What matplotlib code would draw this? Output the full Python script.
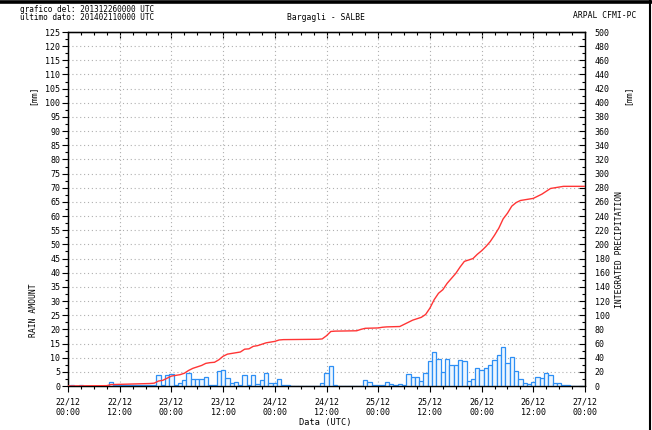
import matplotlib
matplotlib.use('Agg')
import matplotlib.pyplot as plt
from matplotlib.ticker import MultipleLocator, FixedLocator
from matplotlib.lines import Line2D

plt.rcParams['font.family'] = ['DejaVu Sans Mono']
plt.rcParams['font.size'] = 6

# hourly rain amount [mm], hour index from 22/12 00:00
rain_mm = [
    0, 0.4, 0, 0.4, 0, 0, 0, 0, 0, 0,
    1.3, 0.2, 0.2, 0.2, 0.2, 0.2, 0.2, 0.2, 0.2, 0.2,
    0.2, 3.8, 0.5, 3.8, 4.2, 0.3, 1.2, 2.1, 4.7, 2.4,
    2.4, 2.6, 3.3, 0.5, 0.5, 5.4, 5.6, 2.9, 0.9, 1.4,
    0.4, 4.0, 0.4, 3.8, 0.6, 2.1, 4.5, 1.2, 1.2, 2.3,
    0.5, 0.4, 0.1, 0.1, 0.1, 0.1, 0.1, 0.1, 0.1, 1.2,
    4.7, 7.1, 0.4, 0.1, 0.1, 0.1, 0.1, 0.1, 0.1, 2.1,
    1.3, 0.2, 0.2, 0.2, 1.5, 0.7, 0.2, 0.7, 0.2, 4.1,
    3.2, 3.2, 1.9, 4.5, 8.8, 12.0, 9.7, 5.1, 9.7, 7.3,
    7.3, 9.2, 9.0, 1.8, 2.6, 6.5, 5.6, 6.4, 7.3, 9.2,
    10.8, 13.9, 8.2, 10.4, 5.3, 2.4, 1.1, 0.8, 1.4, 3.3,
    2.8, 4.7, 4.0, 1.2, 1.2, 0.5, 0.2, 0.1, 0.1, 0.1,
]
hours = list(range(len(rain_mm)))

# integrated precipitation [mm] (right axis)
cum_hours = [0, 9, 10, 19, 20, 21, 22, 23, 24, 25, 26, 27, 28, 29, 30, 31, 32, 33,
             34, 35, 36, 37, 38, 39, 40, 41, 42, 43, 44, 45, 46, 47, 48, 49, 50,
             58, 59, 60, 61, 62, 67, 68, 69, 72, 73, 74, 77, 78, 79, 80, 81, 82,
             83, 84, 85, 86, 87, 88, 89, 90, 91, 92, 93, 94, 95, 96, 97, 98, 99,
             100, 101, 102, 103, 104, 105, 106, 107, 108, 109, 110, 111, 112, 113,
             114, 115, 120]
cum_mm = [0, 0.5, 2, 3.5, 4, 7, 8, 11, 14, 15, 16, 18, 22, 25, 27, 29, 32, 33,
          33.5, 37, 42, 45, 46, 47, 48, 52, 52.5, 56, 57, 59, 61, 62, 63, 65, 65.5,
          66, 66.5, 71, 77, 77.5, 78, 80, 81.5, 82, 83, 83.5, 84, 87, 90, 93, 95, 97,
          101, 110, 122, 131, 136, 145, 152, 159, 168, 176, 178, 180, 186, 191, 197, 204, 213,
          223, 236, 244, 254, 259, 262, 263, 264, 265, 268, 271, 275, 279, 280,
          281, 282, 282]

tick_hours = [0, 12, 24, 36, 48, 60, 72, 84, 96, 108, 120]
tick_labels = ['22/12\n00:00', '22/12\n12:00', '23/12\n00:00', '23/12\n12:00',
               '24/12\n00:00', '24/12\n12:00', '25/12\n00:00', '25/12\n12:00',
               '26/12\n00:00', '26/12\n12:00', '27/12\n00:00']

W, H = 652, 430
fig = plt.figure(figsize=(W / 100, H / 100), dpi=100)
ax = fig.add_axes([68 / W, 44 / H, (585 - 68) / W, (386 - 32) / H])

ax.bar(hours, rain_mm, width=1.0, align='center', facecolor='#edf6ff',
       edgecolor='#2d8ff5', linewidth=0.9, zorder=3)
ax.set_xlim(0, 120)
ax.set_ylim(0, 125)

ax.yaxis.set_major_locator(MultipleLocator(5))
ax.yaxis.set_minor_locator(MultipleLocator(2.5))
ax.xaxis.set_major_locator(FixedLocator(tick_hours))
ax.set_xticklabels(tick_labels)
ax.xaxis.set_minor_locator(MultipleLocator(3))
ax.tick_params(axis='y', which='major', direction='out', length=4, width=0.8, pad=1.5, labelsize=6)
ax.tick_params(axis='y', which='minor', direction='out', length=2, width=0.8)
ax.tick_params(axis='x', which='major', direction='out', length=4, width=0.8, pad=4, labelsize=6)
ax.tick_params(axis='x', which='minor', direction='out', length=2.5, width=0.8)

ax.grid(True, which='major', axis='both', color='#b0b0b0', linestyle=(0, (1, 2.5)), linewidth=0.8)
ax.set_axisbelow(True)

top = ax.secondary_xaxis('top')
top.xaxis.set_major_locator(FixedLocator(tick_hours))
top.xaxis.set_minor_locator(MultipleLocator(3))
top.tick_params(axis='x', which='major', direction='in', length=4, width=0.8, labeltop=False)
top.tick_params(axis='x', which='minor', direction='in', length=2.5, width=0.8)

ax2 = ax.twinx()
ax2.plot(cum_hours, cum_mm, color='#ff3535', linewidth=1.0, zorder=4)
ax2.set_ylim(0, 500)
ax2.yaxis.set_major_locator(MultipleLocator(20))
ax2.yaxis.set_minor_locator(MultipleLocator(10))
ax2.tick_params(axis='y', which='major', direction='in', length=4, width=0.8, pad=7, labelsize=6)
ax2.tick_params(axis='y', which='minor', direction='in', length=2, width=0.8)

for a in (ax, ax2):
    for s in a.spines.values():
        s.set_linewidth(0.9)

# x axis title
fig.text(325 / W, 1 - 423 / H, 'Data (UTC)', fontsize=6.2, va='center', ha='center')

# header texts
fig.text(20 / W, 1 - 9 / H, 'grafico del: 201312260000 UTC', fontsize=5.6, va='center', ha='left')
fig.text(20 / W, 1 - 17 / H, 'ultimo dato: 201402110000 UTC', fontsize=5.6, va='center', ha='left')
fig.text(326 / W, 1 - 17 / H, 'Bargagli - SALBE', fontsize=5.8, va='center', ha='center')
fig.text(636 / W, 1 - 15 / H, 'ARPAL CFMI-PC', fontsize=5.8, va='center', ha='right')

# axis side labels
fig.text(33 / W, 1 - 95 / H, '[mm]', fontsize=5.8, rotation=90, va='center', ha='center')
fig.text(33 / W, 1 - 310 / H, 'RAIN AMOUNT', fontsize=5.8, rotation=90, va='center', ha='center')
fig.text(628 / W, 1 - 95 / H, '[mm]', fontsize=5.8, rotation=90, va='center', ha='center')
fig.text(620 / W, 1 - 250 / H, 'INTEGRATED PRECIPITATION', fontsize=5.8, rotation=90, va='center', ha='center')

# screenshot frame
fig.add_artist(Line2D([0, 1], [1 - 1.5 / H, 1 - 1.5 / H], color='black', linewidth=2.6,
                      transform=fig.transFigure))
fig.add_artist(Line2D([1 - 2 / W, 1 - 2 / W], [0, 1], color='black', linewidth=1.5,
                      transform=fig.transFigure))

fig.savefig('out.png', dpi=100)
